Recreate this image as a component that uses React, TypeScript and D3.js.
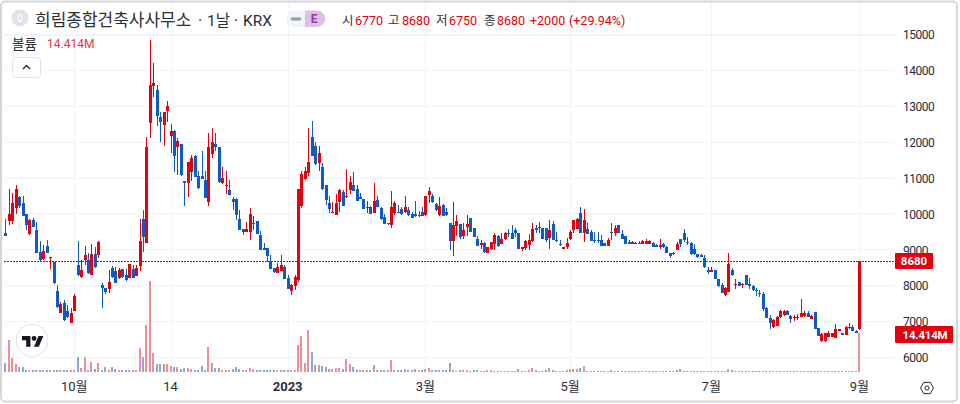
import React, { useEffect, useRef } from 'react';
import * as d3 from 'd3';

// [open, high, low, close]
const candlesAutumn: number[][] = [
  [9465,9837,9372,9372],[9799,10682,9679,9985],[9799,10561,9707,10282],[10143,10793,9985,10672],[10468,10490,10143,10217],
  [10282,10490,9939,9939],[9976,9976,9539,9679],[9428,9837,9400,9818],[9818,9883,9614,9614],[9539,9771,8889,8908],
  [8926,9233,8685,8704],[8722,9121,8704,8945],[9094,9261,8889,8908],[8750,8800,8462,8790],[8657,8657,8035,8053],
  [7849,8007,7357,7385],[7236,7543,7218,7478],[7496,7589,7013,7032],[7283,7450,7078,7106],[6958,7357,6958,7218],
  [7292,7756,7292,7710],[8564,9233,8258,8286],[8220,8704,8211,8425],[8704,9094,8564,8843],[8704,8889,8313,8332],
  [8295,9149,8276,8871],[8871,9075,8490,8499],[8833,9242,8750,9214],[8007,8053,7357,7914],[7914,7914,7756,7821],
  [7886,8425,7793,8081],[8471,8546,8211,8220],[8406,8499,8072,8072],[8193,8471,8165,8425],[8443,8443,8193,8239],
  [8286,8443,8128,8146],[8193,8583,8193,8583],[8443,8564,8211,8211],[8267,8564,8258,8490],[8536,9837,8397,9233],
  [9837,10097,8936,9354],[9186,12139,9186,11861],[12529,14832,12111,13579],[13551,14201,13254,13625],[13439,13579,12436,12715],
  [12678,12836,12000,12557],[12464,12817,11888,12817],[12854,13133,12557,12994],[12158,12483,11693,12297],[12297,12325,11164,11600],
  [11861,12093,11071,12028],[11935,11935,11053,11071],[10913,10913,10217,10839],[10839,11424,10468,11424],[11164,11628,10913,11536],
  [11600,11628,11006,11025],[11043,11183,10681,10700],[11043,11740,10969,10969],[10932,11183,10440,10440],[10328,12251,10217,11861],
  [11656,12371,11554,11981],[11935,12251,11749,11861],[11842,11842,10858,10867],[10839,11303,10820,10997],[10774,11183,10542,10792],
  [10653,10932,10514,10514],[10402,10468,10096,10328],[10402,10440,9817,9957],[9845,10096,9539,9539],[9557,9557,9400,9492],
  [9492,9771,9492,9557],[9492,10143,9260,9985],[9700,9929,9539,9725],[9789,9789,9427,9427],[9399,9511,8982,8982],
  [9028,9170,8982,8982],[9028,9028,8656,8815],[8675,8842,8443,8443],[8489,8489,8332,8378],[8350,8610,8332,8499],
  [8406,8842,8406,8564],[8499,8564,8174,8174],[8192,8285,7895,7895],[7839,8034,7728,8006],[7978,8285,7867,8239],
];

const candlesWinter: number[][] = [
  [8146,10681,8099,10681],[10217,11183,10161,11090],[10950,11303,10932,11183],[11136,12371,11053,11424],[12121,12577,11611,11611],
  [11880,11982,11351,11379],[11416,11880,11193,11676],[11304,11397,10654,10673],[10793,10793,10236,10376],[10283,10487,10004,10125],
  [10004,10329,10004,10032],[9958,10533,9958,10283],[10311,10682,10050,10654],[10589,10654,10218,10218],[10450,11230,10422,10487],
  [10654,11044,10543,10886],[10793,11165,10626,10626],[10673,10793,10357,10357],[10450,10580,10403,10403],[10394,10394,10125,10125],
  [10143,10357,10004,10171],[10190,10208,9985,9985],[10004,10858,10004,10348],[10375,10487,10171,10171],[10143,10171,9818,9837],
  [9893,9985,9698,9698],[9725,9725,9679,9698],[9679,10626,9605,10171],[10004,10348,9958,10283],[10050,10236,10004,10023],
  [10125,10190,9958,9976],[10050,10487,10004,10190],[10097,10171,9930,9958],[9976,10050,9865,9883],[9976,10348,9911,9939],
  [9939,10069,9911,9958],[10041,10190,9930,9939],[9958,10487,9939,10487],[10515,10747,10301,10626],[10487,10533,10283,10329],
  [10264,10301,10069,10097],[9958,10450,9939,10208],[10236,10255,9939,9939],[10032,10143,9939,9958],[9725,9725,8983,9243],
  [9243,10310,8825,9679],[9661,9958,9382,9790],[9698,9707,9289,9335],[9373,9725,9289,9540],[9614,9958,9382,9698],
  [9874,9874,9493,9493],[9586,9586,9354,9354],[9280,9373,9103,9103],[9122,9261,9001,9168],[9187,9215,8908,8917],
  [8908,9057,8890,9057],[9001,9215,8983,9215],[9150,9465,8983,9400],[9373,9400,9075,9094],[9150,9447,9150,9289],
  [9289,9493,9261,9465],[9465,9558,9354,9419],[9465,9679,9289,9289],[9540,9605,9335,9465],[9447,9447,9010,9010],
];

const candlesSpring: number[][] = [
  [9001,9075,8964,9075],[9029,9261,8983,9233],[9122,9419,8983,9261],[9233,9725,9215,9558],[9586,9679,9447,9540],
  [9586,9753,9465,9614],[9605,9605,9280,9280],[9586,9586,9215,9261],[9308,9818,9010,9540],[9707,9800,9261,9261],
  [9261,9475,9215,9233],[9150,9261,9094,9122],[9010,9075,9010,9075],[9075,9326,9010,9187],[9280,9540,9261,9493],
  [9540,9818,9447,9818],[9567,9865,9567,9837],[10022,10171,9447,9465],[9447,10125,9215,9818],[9558,9725,9419,9419],
  [9493,9540,9233,9233],[9261,9475,9168,9233],[9261,9475,9168,9243],[9261,9400,9103,9103],[9168,9168,9103,9103],
  [9103,9307,9103,9261],[9493,9744,9261,9465],[9465,9679,9373,9586],[9679,9679,9447,9447],[9428,9540,9289,9289],
  [9382,9382,9150,9150],[9196,9261,9150,9150],[9150,9243,9150,9196],[9159,9215,9150,9187],[9187,9220,9140,9150],
  [9150,9270,9150,9243],[9159,9290,9150,9243],[9159,9270,9140,9233],[9187,9210,9057,9057],[9122,9140,9057,9075],
  [9075,9280,9010,9122],[9150,9170,9038,9057],[9075,9094,8890,8890],[8890,8890,8760,8815],[8880,8936,8843,8900],
];

const candlesSummer: number[][] = [
  [8982,9215,8982,9150],[9280,9280,9057,9140],[9447,9558,9215,9261],[9215,9335,9122,9168],[9168,9215,8843,8862],
  [8998,9140,8843,8862],[8862,8880,8760,8778],[8853,8880,8780,8797],[8750,8843,8472,8499],[8425,8499,8314,8379],
  [8360,8518,8360,8425],[8425,8425,8165,8165],[8165,8165,7960,7988],[8007,8053,7794,7794],[7729,7942,7710,7914],
  [7803,8890,7803,8592],[8425,8472,8258,8286],[8017,8165,7896,8035],[8081,8100,7970,7989],[8017,8070,7914,8035],
  [8286,8286,8000,8017],[8035,8211,7896,7979],[7989,8000,7840,7868],[7868,7933,7710,7840],[7794,7868,7682,7757],
  [7757,7822,7283,7339],[7376,7400,7097,7097],[7079,7172,6772,6958],[6828,7050,6810,7032],[6865,7130,6850,7106],
  [7125,7320,7100,7292],[7172,7320,7150,7292],[7292,7320,7160,7172],[7144,7172,6958,7051],[7079,7172,7014,7107],
  [7097,7200,7032,7125],[7107,7608,7107,7218],[7144,7292,7125,7236],[7218,7283,7107,7107],[7070,7160,7070,7144],
  [7255,7255,6781,6781],[6800,6800,6586,6586],[6447,6660,6428,6642],[6447,6680,6428,6660],[6568,6735,6549,6679],
  [6568,6680,6549,6660],[6540,6921,6540,6772],[6735,6790,6717,6772],[6660,6680,6600,6614],[6614,6850,6600,6828],
  [6800,6940,6772,6828],[6828,6880,6717,6735],[6735,6760,6660,6679],[6770,8680,6750,8680],
];

// traded volume in millions, same order as the candles
const volumesAutumn = [
  3.5,11.9,5.3,3,2,2,.8,.8,.8,.8,.8,.7,.8,.8,.8,.6,.6,.6,.6,.9,
  .8,5.7,1.4,5.7,.8,3.8,1,3.5,.8,2,.8,2,1.2,.8,.8,.7,.8,.7,.8,8.9,
  5.7,17.4,33.7,7.2,3,3,2.8,3,2.3,2,1.9,1.1,1.5,1.5,1.1,.8,.8,2.2,.8,9.1,
  3.5,1.5,1.5,.6,.6,.6,1,1.9,1,.6,.6,1.5,1,.6,.8,.6,.6,.6,.6,.6,.6,.6,.6,.6,.7,
];
const volumesWinter = [
  9.9,13.3,3.5,15.6,7.4,2.7,2.5,2.2,1.7,1.1,1,1.5,1.5,1,4.8,3,1.9,.8,.8,.6,
  .6,.6,2.6,.6,.6,.6,.6,4.4,.8,.6,.6,1,.7,.7,1,.6,.7,1.2,1.3,.9,.7,.9,.9,.9,3.3,
  .8,.5,.6,.7,.7,.5,.6,.6,.5,.4,.6,.8,.5,.5,.5,.5,.5,.5,.5,1.1,
];
const volumesSpring = [
  .5,.5,.9,1.3,.7,.5,.4,.9,1.5,.7,.5,.5,.5,.6,1,1.1,1.1,1.5,2.2,.5,
  .5,.5,.5,.3,.3,.5,.7,.5,.5,.5,.5,.2,.2,.2,.2,.2,.2,.3,.2,.3,.2,.2,.3,.3,.3,
];
const volumesSummer = [
  .6,1.1,.5,.5,.4,.2,.2,.2,.2,.2,.2,.2,.2,.2,.2,1.1,.6,.5,.2,.2,
  .4,.4,.2,.3,.4,.5,.5,.5,.2,.2,.2,.2,.2,.2,.2,.2,.4,.3,.2,.2,.3,.2,.2,.2,.2,.2,.2,.2,.2,.2,.2,.2,.2,14.414,
];

const priceTicks = [6000, 7000, 8000, 9000, 10000, 11000, 12000, 13000, 14000, 15000];
const dateTickIndex = [20, 48, 82, 122, 164, 205, 248];
const dateTickLabels = ['10월', '14', '2023', '3월', '5월', '7월', '9월'];
const lastPrice = 8680;
const lastVolumeLabel = '14.414M';

const UP = '#e3000f';
const DOWN = '#0d5bc9';
const UP_VOL = '#ec8f96';
const DOWN_VOL = '#88a9dd';
const GRID = '#f0f3fa';
const INK = '#2a2e39';
const FONT = "Roboto, 'Noto Sans CJK KR', sans-serif";

export default function App() {
  const svgRef = useRef<SVGSVGElement>(null);

  useEffect(() => {
    if (!svgRef.current) return;
    const candles = [...candlesAutumn, ...candlesWinter, ...candlesSpring, ...candlesSummer];
    const volumes = [...volumesAutumn, ...volumesWinter, ...volumesSpring, ...volumesSummer];

    const x = d3.scaleLinear().domain([0, candles.length - 1]).range([5.3, 859.3]);
    const y = d3.scaleLinear().domain([6000, 15000]).range([357, 34]);
    const yVol = d3.scaleLinear().domain([0, 33.7]).range([372, 281]);
    const px = (i: number) => Math.round(x(i));

    const svg = d3.select(svgRef.current);
    svg.selectAll('*').remove();
    svg.attr('font-family', FONT);

    // grid
    const grid = svg.append('g').attr('shape-rendering', 'crispEdges').attr('stroke', GRID);
    grid.selectAll('line.h').data(priceTicks).join('line')
      .attr('x1', 4).attr('x2', 895)
      .attr('y1', d => Math.round(y(d)) + 0.5).attr('y2', d => Math.round(y(d)) + 0.5);
    grid.selectAll('line.v').data(dateTickIndex).join('line')
      .attr('x1', d => px(d) + 0.5).attr('x2', d => px(d) + 0.5)
      .attr('y1', 4).attr('y2', 376);

    // volume
    svg.append('g').attr('shape-rendering', 'crispEdges')
      .selectAll('rect').data(volumes).join('rect')
      .attr('x', (_, i) => px(i) - 1)
      .attr('width', 2)
      .attr('y', d => Math.round(yVol(d)))
      .attr('height', d => Math.max(1, 372 - Math.round(yVol(d))))
      .attr('fill', (_, i) => (candles[i][3] >= candles[i][0] ? UP_VOL : DOWN_VOL));

    // last price line
    svg.append('line')
      .attr('x1', 4).attr('x2', 895)
      .attr('y1', Math.round(y(lastPrice)) + 0.5).attr('y2', Math.round(y(lastPrice)) + 0.5)
      .attr('stroke', UP).attr('stroke-dasharray', '2 1').attr('shape-rendering', 'crispEdges');

    // candles
    const candle = svg.append('g').attr('shape-rendering', 'crispEdges')
      .selectAll('g').data(candles).join('g')
      .attr('fill', d => (d[3] >= d[0] ? UP : DOWN));
    candle.append('rect')
      .attr('x', (_, i) => px(i))
      .attr('width', 1)
      .attr('y', d => y(d[1]))
      .attr('height', d => Math.max(1, y(d[2]) - y(d[1])));
    candle.append('rect')
      .attr('x', (_, i) => px(i) - 1)
      .attr('width', 3)
      .attr('y', d => y(Math.max(d[0], d[3])))
      .attr('height', d => Math.max(1, Math.abs(y(d[0]) - y(d[3]))));

    // price axis
    svg.append('g').selectAll('text').data(priceTicks).join('text')
      .attr('x', 903).attr('y', d => y(d) + 1).attr('dy', '0.35em')
      .attr('font-size', 12).attr('letter-spacing', '-0.5px').attr('fill', INK)
      .text(d => d3.format('d')(d));

    svg.append('rect').attr('x', 895).attr('y', 253).attr('width', 38).attr('height', 16).attr('rx', 1).attr('fill', UP);
    svg.append('text').attr('x', 914).attr('y', 261).attr('dy', '0.35em').attr('text-anchor', 'middle')
      .attr('font-size', 11.5).attr('font-weight', 700).attr('fill', '#fff').text(lastPrice);
    svg.append('rect').attr('x', 895).attr('y', 326).attr('width', 58).attr('height', 17).attr('rx', 1).attr('fill', UP);
    svg.append('text').attr('x', 925).attr('y', 335).attr('dy', '0.35em').attr('text-anchor', 'middle')
      .attr('font-size', 11.5).attr('letter-spacing', '-0.2px').attr('font-weight', 700).attr('fill', '#fff').text(lastVolumeLabel);

    // date axis
    svg.append('g').selectAll('text').data(dateTickIndex).join('text')
      .attr('x', d => x(d)).attr('y', 386).attr('dy', '0.35em').attr('text-anchor', 'middle')
      .attr('font-size', 13).attr('fill', INK)
      .attr('font-weight', (_, i) => (dateTickLabels[i] === '2023' ? 700 : 400))
      .text((_, i) => dateTickLabels[i]);

    // settings icon
    const gear = svg.append('g').attr('transform', 'translate(927,388)').attr('fill', 'none').attr('stroke', '#2a2e39');
    gear.append('path').attr('d', d3.line()(d3.range(6).map(k => {
      const a = (Math.PI / 3) * k;
      return [6.5 * Math.cos(a), 6.5 * Math.sin(a)] as [number, number];
    })) + 'Z');
    gear.append('circle').attr('r', 2);

    // header
    svg.append('line').attr('x1', 4).attr('x2', 895).attr('y1', 35.5).attr('y2', 35.5).attr('stroke', GRID);
    svg.append('circle').attr('cx', 20).attr('cy', 18).attr('r', 8.5).attr('fill', '#e0e3eb');
    svg.append('text').attr('x', 20).attr('y', 18).attr('dy', '0.35em').attr('text-anchor', 'middle').attr('font-size', 10).attr('fill', '#fff').text('0');
    const title = svg.append('text').attr('x', 35).attr('y', 20).attr('dy', '0.35em').attr('fill', INK);
    title.append('tspan').attr('font-size', 17).text('희림종합건축사사무소');
    title.append('tspan').attr('x', 198).attr('font-size', 16).text('·');
    title.append('tspan').attr('x', 207).attr('font-size', 15.5).text('1날');
    title.append('tspan').attr('x', 234).attr('font-size', 16).text('·');
    title.append('tspan').attr('x', 243).attr('font-size', 15.5).text('KRX');

    svg.append('rect').attr('x', 286).attr('y', 10.5).attr('width', 34).attr('height', 16.5).attr('rx', 8).attr('fill', '#f0f3fa');
    svg.append('rect').attr('x', 291).attr('y', 17.5).attr('width', 10).attr('height', 3).attr('rx', 1).attr('fill', '#9598a1');
    svg.append('path').attr('d', 'M305 10.5h12a8.25 8.25 0 0 1 0 16.5h-12z').attr('fill', '#e1bee7');
    svg.append('text').attr('x', 314).attr('y', 19).attr('dy', '0.35em').attr('text-anchor', 'middle').attr('font-size', 12).attr('font-weight', 700).attr('fill', '#8e3aa8').text('E');

    const legend: [string, number, string][] = [
      ['시', 342, INK], ['6770', 355, UP], ['고', 388, INK], ['8680', 402, UP],
      ['저', 436, INK], ['6750', 449, UP], ['종', 484, INK], ['8680', 497, UP],
      ['+2000', 530, UP], ['(+29.94%)', 569, UP],
    ];
    svg.append('g').selectAll('text').data(legend).join('text')
      .attr('x', d => d[1]).attr('y', 20.5).attr('dy', '0.35em')
      .attr('font-size', 12.5).attr('fill', d => d[2]).text(d => d[0]);

    svg.append('text').attr('x', 12).attr('y', 44).attr('dy', '0.35em').attr('font-size', 13.5).attr('fill', INK).text('볼륨');
    svg.append('text').attr('x', 47).attr('y', 44).attr('dy', '0.35em').attr('font-size', 12).attr('fill', '#e5363f').text(lastVolumeLabel);
    svg.append('rect').attr('x', 12.5).attr('y', 57.5).attr('width', 28).attr('height', 20).attr('rx', 3).attr('fill', '#fff').attr('stroke', '#e0e3eb');
    svg.append('path').attr('d', 'M23 69l3.5-3.5 3.5 3.5').attr('fill', 'none').attr('stroke', INK).attr('stroke-width', 1.4);

    // logo
    svg.append('circle').attr('cx', 32).attr('cy', 340.5).attr('r', 16).attr('fill', '#fff').attr('stroke', '#e0e3eb').attr('stroke-width', 1);
    const logo = svg.append('g').attr('transform', 'translate(22,333.6) scale(0.6)').attr('fill', '#131722');
    logo.append('path').attr('d', 'M14 22H7V11H0V4h14v18zM28 22h-8l7.5-18h8L28 22z');
    logo.append('circle').attr('cx', 20).attr('cy', 8).attr('r', 4);

    // frame
    svg.append('rect').attr('x', 1).attr('y', 1.5).attr('width', 956).attr('height', 400).attr('rx', 4)
      .attr('fill', 'none').attr('stroke', '#d6d6d6').attr('stroke-width', 2);
  }, []);

  return (
    <div style={{ position: 'fixed', left: 0, top: 0, width: 960, height: 404, background: '#fff' }}>
      <svg ref={svgRef} width={960} height={404} style={{ display: 'block' }} />
    </div>
  );
}
